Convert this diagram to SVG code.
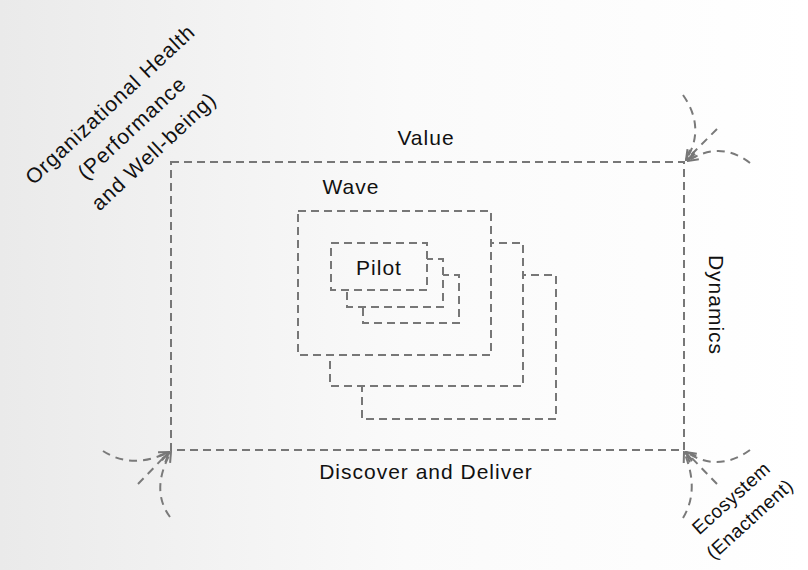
<svg xmlns="http://www.w3.org/2000/svg" width="808" height="570" viewBox="0 0 808 570">
  <defs>
    <linearGradient id="bg" gradientUnits="userSpaceOnUse" x1="0" y1="0" x2="808" y2="0">
      <stop offset="0" stop-color="#eaeaea"/>
      <stop offset="0.5" stop-color="#fafafa"/>
      <stop offset="1" stop-color="#ffffff"/>
    </linearGradient>
    <marker id="head" viewBox="0 0 12 12" refX="11" refY="6" markerWidth="12" markerHeight="12" markerUnits="userSpaceOnUse" orient="auto">
      <path d="M1,1.5 L11,6 L1,10.5" fill="none" stroke="#777" stroke-width="2"/>
    </marker>
  </defs>
  <style>
    .box { fill: url(#bg); stroke: #777; stroke-width: 2; stroke-dasharray: 8 5; }
    .frame { fill: none; stroke: #777; stroke-width: 2; stroke-dasharray: 8 5; }
    .flow { fill: none; stroke: #7a7a7a; stroke-width: 2; stroke-dasharray: 8 6; marker-end: url(#head); }
    .lbl { font-family: "Liberation Sans", "DejaVu Sans", sans-serif; font-size: 21px; letter-spacing: 1px; fill: #111; }
    .small { font-size: 19px; letter-spacing: 0.5px; }
  </style>

  <rect x="0" y="0" width="808" height="570" fill="url(#bg)"/>

  <!-- outer frame -->
  <g id="frame">
    <rect class="frame" x="171" y="162" width="513" height="288"/>
    <text class="lbl" x="426" y="145" text-anchor="middle">Value</text>
    <text class="lbl" x="426" y="479" text-anchor="middle">Discover and Deliver</text>
    <text class="lbl" transform="translate(709,305) rotate(90)" text-anchor="middle">Dynamics</text>
  </g>

  <!-- wave stack -->
  <g id="wave">
    <rect class="box" x="362" y="275" width="194" height="144"/>
    <rect class="box" x="330" y="243" width="193" height="143"/>
    <rect class="box" x="298" y="211" width="193" height="144"/>
    <text class="lbl" x="351" y="194" text-anchor="middle">Wave</text>
  </g>

  <!-- pilot stack -->
  <g id="pilot">
    <rect class="box" x="363" y="275" width="96" height="48"/>
    <rect class="box" x="347" y="259" width="96" height="48"/>
    <rect class="box" x="331" y="243" width="96" height="47"/>
    <text class="lbl" x="379" y="275" text-anchor="middle">Pilot</text>
  </g>

  <!-- side labels -->
  <g id="health">
    <g transform="translate(132,128) rotate(-43)">
      <text class="lbl" x="0" y="-25" text-anchor="middle">Organizational Health</text>
      <text class="lbl" x="0" y="7" text-anchor="middle">(Performance</text>
      <text class="lbl" x="0" y="39" text-anchor="middle">and Well-being)</text>
    </g>
  </g>
  <g id="ecosystem">
    <g transform="translate(738,506) rotate(-42)">
      <text class="lbl small" x="0" y="-4" text-anchor="middle">Ecosystem</text>
      <text class="lbl small" x="0" y="24" text-anchor="middle">(Enactment)</text>
    </g>
  </g>

  <!-- corner influences -->
  <g id="connectors">
    <path class="flow" d="M683,95 Q706,128 686,160"/>
    <path class="flow" d="M717,129 L686,160"/>
    <path class="flow" d="M750,163 Q720,140 688,161"/>

    <path class="flow" d="M103,451 Q132,470 169,452"/>
    <path class="flow" d="M138,484 L169,452"/>
    <path class="flow" d="M170,517 Q150,490 171,452"/>

    <path class="flow" d="M750,450 Q718,473 686,452"/>
    <path class="flow" d="M717,484 L686,452"/>
    <path class="flow" d="M683,518 Q700,490 684,452"/>
  </g>
</svg>
